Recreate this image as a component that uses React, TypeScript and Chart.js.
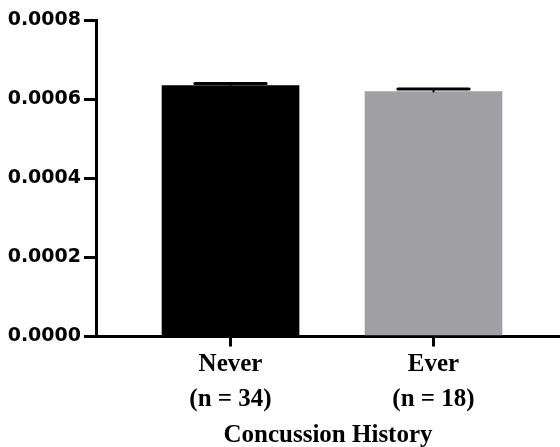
import React, { useEffect, useRef } from 'react';
import { Chart, registerables } from 'chart.js';

Chart.register(...registerables);

const categories = ['Never', 'Ever'];
const sampleSizes = [34, 18];
const means = [0.000634, 0.000619];
const sems = [0.0000056, 0.0000068];
const barColors = ['#000000', '#a09fa4'];
const yTicks = [0, 0.0002, 0.0004, 0.0006, 0.0008];
const xTitle = 'Concussion History';

const errorBarPlugin = {
  id: 'errorBars',
  afterDatasetsDraw(chart: any) {
    const { ctx, scales } = chart;
    const meta = chart.getDatasetMeta(0);
    ctx.save();
    ctx.strokeStyle = '#000000';
    ctx.lineCap = 'round';
    meta.data.forEach((bar: any, i: number) => {
      const x = bar.x;
      const yMean = scales.y.getPixelForValue(means[i]);
      const yTop = scales.y.getPixelForValue(means[i] + sems[i]);
      const half = bar.width * 0.26;
      ctx.lineWidth = 2;
      ctx.beginPath();
      ctx.moveTo(x, yMean);
      ctx.lineTo(x, yTop);
      ctx.stroke();
      ctx.lineWidth = 3;
      ctx.beginPath();
      ctx.moveTo(x - half, yTop);
      ctx.lineTo(x + half, yTop);
      ctx.stroke();
    });
    ctx.restore();
  },
};

export default function App() {
  const canvasRef = useRef<HTMLCanvasElement | null>(null);

  useEffect(() => {
    if (!canvasRef.current) return;
    const chart = new Chart(canvasRef.current, {
      type: 'bar',
      data: {
        datasets: [
          {
            data: categories.map((_, i) => ({ x: i + 1, y: means[i] })),
            backgroundColor: barColors,
            borderWidth: 0,
            barThickness: 137,
          },
        ],
      },
      options: {
        animation: false,
        responsive: true,
        maintainAspectRatio: false,
        layout: { padding: { top: 20, left: 0, right: 0, bottom: 0 } },
        plugins: {
          legend: { display: false },
          tooltip: { enabled: false },
        },
        scales: {
          x: {
            type: 'linear',
            position: 'bottom',
            offset: false,
            min: 0.3374,
            max: 2.623,
            afterBuildTicks: (s: any) => {
              s.ticks = categories.map((_, i) => ({ value: i + 1 }));
            },
            afterFit: (s: any) => {
              s.height = 110.5;
            },
            grid: {
              offset: false,
              drawOnChartArea: false,
              drawTicks: true,
              tickLength: 10,
              lineWidth: 3,
              color: '#000000',
            },
            border: { display: true, color: '#000000', width: 3 },
            ticks: {
              padding: 1,
              color: '#000000',
              autoSkip: false,
              maxRotation: 0,
              font: { family: '"Liberation Serif"', weight: 'bold', size: 25, lineHeight: 1.39 },
              callback: (v: any) => {
                const i = Math.round(Number(v)) - 1;
                return [categories[i], `(n = ${sampleSizes[i]})`];
              },
            },
            title: {
              display: true,
              text: xTitle,
              color: '#000000',
              padding: { top: 0, bottom: 0 },
              font: { family: '"Liberation Serif"', weight: 'bold', size: 25, lineHeight: 0.92 },
            },
          },
          y: {
            min: 0,
            max: 0.0008,
            afterBuildTicks: (s: any) => {
              s.ticks = yTicks.map((v) => ({ value: v }));
            },
            afterFit: (s: any) => {
              s.width = 96;
            },
            grid: {
              drawOnChartArea: false,
              drawTicks: true,
              tickLength: 12,
              lineWidth: 3,
              color: '#000000',
            },
            border: { display: true, color: '#000000', width: 3 },
            ticks: {
              padding: 3,
              color: '#000000',
              font: { family: '"DejaVu Sans"', weight: 'bold', size: 19 },
              callback: (v: any) => Number(v).toFixed(4),
            },
          },
        },
      },
      plugins: [errorBarPlugin],
    } as any);
    return () => chart.destroy();
  }, []);

  return (
    <div style={{ position: 'absolute', left: 0, top: 0, width: 560, height: 447 }}>
      <canvas ref={canvasRef} />
    </div>
  );
}
